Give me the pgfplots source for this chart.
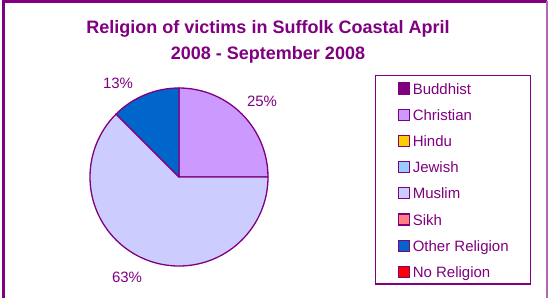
\documentclass[border=0pt]{standalone}
\usepackage{pgfplots}
\usepackage{pgfplotstable}
\pgfplotsset{compat=1.18}
\usepackage{fontspec}
\setmainfont{Liberation Sans}
\definecolor{frame}{HTML}{800080}
\definecolor{slicecol0}{HTML}{800080}
\definecolor{slicecol1}{HTML}{CC99FF}
\definecolor{slicecol2}{HTML}{FFCC00}
\definecolor{slicecol3}{HTML}{99CCFF}
\definecolor{slicecol4}{HTML}{CCCCFF}
\definecolor{slicecol5}{HTML}{FF8080}
\definecolor{slicecol6}{HTML}{0066CC}
\definecolor{slicecol7}{HTML}{FF0000}

% share of victims, percent
\pgfplotstableread[col sep=comma,row sep=\\]{
name,value\\
Buddhist,0\\
Christian,25\\
Hindu,0\\
Jewish,0\\
Muslim,62.5\\
Sikh,0\\
Other Religion,12.5\\
No Religion,0\\
}\religion

\gdef\cum{0}
\foreach \i in {0,...,7}{%
  \pgfplotstablegetelem{\i}{value}\of\religion
  \pgfmathsetmacro\v{\pgfplotsretval}%
  \pgfmathsetmacro\s{90-3.6*\cum}%
  \pgfmathsetmacro\e{90-3.6*(\cum+\v)}%
  \expandafter\xdef\csname sliceS\i\endcsname{\s}%
  \expandafter\xdef\csname sliceE\i\endcsname{\e}%
  \expandafter\xdef\csname sliceV\i\endcsname{\v}%
  \pgfplotstablegetelem{\i}{name}\of\religion
  \expandafter\xdef\csname sliceN\i\endcsname{\pgfplotsretval}%
  \pgfmathsetmacro\c{\cum+\v}\xdef\cum{\c}%
}

\begin{document}
\begin{tikzpicture}[x=1bp,y=1bp]
\useasboundingbox (0,0) rectangle (548,297);
\clip (0,0) rectangle (548,297);
\fill[white] (0,0) rectangle (548,297);
\draw[frame, line width=3bp] (3.3,-10) -- (3.3,295.6) -- (546.8,295.6);
\draw[frame!60, line width=1.2bp] (546.9,295.6) -- (546.9,-10);
\node[anchor=base, text=frame, font=\fontsize{18bp}{22bp}\selectfont\bfseries, inner sep=0pt] at (268,264) {Religion of victims in Suffolk Coastal April};
\node[anchor=base, text=frame, font=\fontsize{18bp}{22bp}\selectfont\bfseries, inner sep=0pt] at (268,237.7) {2008 - September 2008};
\begin{axis}[
  at={(179bp,120bp)}, anchor=origin,
  x=89bp, y=89bp, xmin=-1, xmax=1, ymin=-1, ymax=1,
  hide axis, clip=false,
  legend image code/.code={\draw[#1] (0bp,0bp) rectangle (11bp,11bp);},
  legend cell align=left,
  legend style={at={(1.601,1.073)}, anchor=north west, draw=frame, line width=1.2bp,
    fill=white, inner xsep=22bp, inner ysep=3bp, row sep=7.2bp, column sep=3bp,
    font=\fontsize{15bp}{18bp}\selectfont, text=frame,
    nodes={inner sep=0pt, text height=15.4bp, text depth=3.6bp, anchor=base west}},
]
\pgfplotsinvokeforeach{0,...,7}{%
  \ifdim\csname sliceV#1\endcsname pt>0pt
  \filldraw[fill=slicecol#1, draw=frame, line width=1.3bp, line join=round]
    (axis cs:0,0) -- ++(\csname sliceS#1\endcsname:89bp)
    arc[start angle=\csname sliceS#1\endcsname, end angle=\csname sliceE#1\endcsname, radius=89bp] -- cycle;
  \fi
}
\pgfplotsinvokeforeach{0,...,7}{%
  \addlegendimage{fill=slicecol#1, draw=frame, line width=1.2bp}
  \addlegendentry{\csname sliceN#1\endcsname}
}
\node[text=frame, font=\fontsize{15bp}{18bp}\selectfont] at (axis cs:0.933,0.854) {25\%};
\node[text=frame, font=\fontsize{15bp}{18bp}\selectfont] at (axis cs:-0.685,1.056) {13\%};
\node[text=frame, font=\fontsize{15bp}{18bp}\selectfont] at (axis cs:-0.584,-1.124) {63\%};
\end{axis}
\end{tikzpicture}
\end{document}
